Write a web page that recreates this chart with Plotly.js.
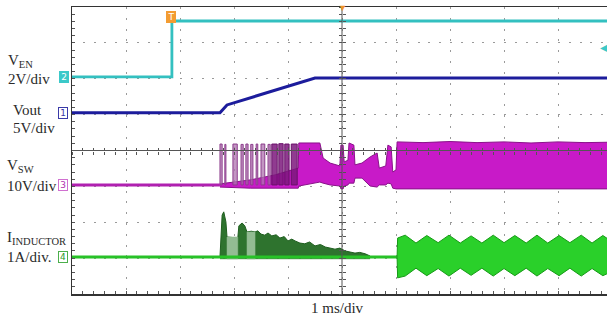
<!DOCTYPE html>
<html>
<head>
<meta charset="utf-8">
<script src="https://cdn.plot.ly/plotly-3.0.1.min.js"></script>
<style>html,body{margin:0;padding:0;background:#fff;}</style>
</head>
<body>
<div id="chart" style="width:607px;height:320px;"></div>
<script>
// ---- Data (time in ms, amplitude in screen divisions) ----
const ven_t = [-5, -3.15, -3.15, 4.91];
const ven_v = [2.05, 2.05, 3.61, 3.61];

const vout_t = [-5, -2.26, -2.13, -0.5, 4.91];
const vout_v = [1.05, 1.05, 1.27, 2.02, 2.02];

const vsw_base_t = [-5, -2.26];
const vsw_base_v = [-0.96, -0.96];

const vsw_t  = [-2.26, -1.70, -1.24, -0.81, -0.80, -0.41, -0.35, -0.22, -0.04, -0.02, 0.02, 0.04, 0.11, 0.13, 0.22, 0.24, 0.37, 0.52, 0.65, 0.69, 0.81, 0.85, 0.91, 0.94, 1.00, 1.02, 1.5, 2.0, 2.5, 3.0, 3.5, 4.0, 4.5, 4.91];
const vsw_hi = [-0.93, -0.82, -0.68, -0.49, 0.21, 0.21, -0.21, -0.35, -0.43, 0.15, 0.15, -0.32, -0.27, 0.21, 0.15, -0.40, -0.35, -0.18, -0.07, -0.49, -0.43, 0.15, 0.10, -0.60, -0.54, 0.24, 0.22, 0.25, 0.22, 0.24, 0.21, 0.24, 0.22, 0.23];
const vsw_lo = [-1.02, -1.05, -1.05, -1.05, -0.99, -0.88, -0.91, -0.96, -0.99, -1.07, -1.07, -0.99, -0.96, -0.91, -0.91, -0.77, -0.77, -0.99, -1.02, -0.96, -0.96, -0.91, -0.93, -1.05, -1.07, -1.07, -1.06, -1.08, -1.07, -1.06, -1.08, -1.07, -1.06, -1.07];

const pulse_start = [-2.26, -2.17, -2.02, -1.87, -1.78, -1.69, -1.59, -1.50, -1.37, -1.30, -1.17, -1.06, -0.94];
const pulse_end   = [-2.22, -2.15, -1.94, -1.83, -1.74, -1.65, -1.56, -1.43, -1.33, -1.20, -1.09, -0.98, -0.83];
const pulse_top   = [0.18, 0.17, 0.18, 0.17, 0.18, 0.17, 0.18, 0.18, 0.17, 0.18, 0.19, 0.18, 0.18];
const pulse_dark  = [false, false, false, false, false, false, false, false, false, true, true, true, true];
const pulse_base  = -0.96;

const il_base_t = [-5, 1.02];
const il_base_v = [-2.97, -2.97];

const il_burst_t  = [-2.26, -2.22, -2.19, -2.15, -2.13, -2.03, -1.93, -1.91, -1.85, -1.80, -1.76, -1.68, -1.61, -1.56, -1.50, -1.43, -1.37, -1.30, -1.22, -1.15, -1.07, -1.00, -0.93, -0.87, -0.78, -0.69, -0.60, -0.50, -0.40, -0.31, -0.22, -0.13, -0.04, 0.06, 0.15, 0.24, 0.33, 0.43, 0.52];
const il_burst_hi = [-2.97, -1.80, -1.71, -1.99, -2.41, -2.43, -2.44, -2.10, -2.02, -2.10, -2.27, -2.25, -2.27, -2.24, -2.33, -2.36, -2.30, -2.38, -2.35, -2.44, -2.40, -2.52, -2.47, -2.52, -2.58, -2.60, -2.55, -2.66, -2.62, -2.69, -2.72, -2.75, -2.72, -2.80, -2.83, -2.86, -2.84, -2.88, -2.94];
const il_burst_lo = -3.02;

const il_light_start = [-2.13, -1.76];
const il_light_end   = [-1.93, -1.61];
const il_light_top   = [-2.41, -2.27];

const il_rip_t  = [1.02, 1.03, 1.17, 1.37, 1.57, 1.78, 1.98, 2.19, 2.39, 2.59, 2.80, 3.00, 3.20, 3.41, 3.61, 3.81, 4.02, 4.22, 4.43, 4.63, 4.83, 4.96];
const il_rip_hi = [-2.97, -2.44, -2.36, -2.58, -2.37, -2.57, -2.36, -2.58, -2.38, -2.58, -2.36, -2.57, -2.37, -2.58, -2.36, -2.58, -2.37, -2.57, -2.36, -2.58, -2.37, -2.50];
const il_rip_lo = [-2.97, -3.55, -3.50, -3.28, -3.49, -3.29, -3.50, -3.28, -3.48, -3.28, -3.50, -3.29, -3.49, -3.28, -3.50, -3.29, -3.49, -3.28, -3.50, -3.29, -3.49, -3.40];

// ---- Build rectangles from pulse lists ----
function rects(starts, ends, tops, base, pick) {
  const x = [], y = [];
  for (let i = 0; i < starts.length; i++) {
    if (pick && !pick(i)) continue;
    x.push(starts[i], starts[i], ends[i], ends[i], starts[i], null);
    y.push(base, tops[i], tops[i], base, base, null);
  }
  return {x, y};
}
const lightP = rects(pulse_start, pulse_end, pulse_top, pulse_base, i => !pulse_dark[i]);
const darkP  = rects(pulse_start, pulse_end, pulse_top, pulse_base, i => pulse_dark[i]);
const ilLight = rects(il_light_start, il_light_end, il_light_top, il_burst_lo, null);

const skip = {hoverinfo: 'skip', showlegend: false};

const traces = [
  // VSW envelope
  Object.assign({x: vsw_t, y: vsw_lo, mode: 'lines', line: {color: '#8a128a', width: 1}}, skip),
  Object.assign({x: vsw_t, y: vsw_hi, mode: 'lines', line: {color: '#8a128a', width: 1}, fill: 'tonexty', fillcolor: '#c81ac8'}, skip),
  Object.assign({x: lightP.x, y: lightP.y, mode: 'lines', line: {color: '#8c3c8c', width: 1}, fill: 'toself', fillcolor: 'rgba(175,115,175,0.75)'}, skip),
  Object.assign({x: darkP.x, y: darkP.y, mode: 'lines', line: {color: '#6a106a', width: 1}, fill: 'toself', fillcolor: 'rgba(125,25,125,0.85)'}, skip),
  Object.assign({x: vsw_base_t, y: vsw_base_v, mode: 'lines', line: {color: '#b020b0', width: 3}}, skip),
  // Inductor current burst
  Object.assign({x: il_burst_t, y: il_burst_t.map(() => il_burst_lo), mode: 'lines', line: {color: '#2a7a2a', width: 0.5}}, skip),
  Object.assign({x: il_burst_t, y: il_burst_hi, mode: 'lines', line: {color: '#1f5f1f', width: 1}, fill: 'tonexty', fillcolor: '#2e732e'}, skip),
  Object.assign({x: ilLight.x, y: ilLight.y, mode: 'lines', line: {color: '#8fb98f', width: 0.5}, fill: 'toself', fillcolor: '#93bc93'}, skip),
  Object.assign({x: il_base_t, y: il_base_v, mode: 'lines', line: {color: '#27c227', width: 3}}, skip),
  // Inductor ripple band
  Object.assign({x: il_rip_t, y: il_rip_lo, mode: 'lines', line: {color: '#169a16', width: 1}}, skip),
  Object.assign({x: il_rip_t, y: il_rip_hi, mode: 'lines', line: {color: '#169a16', width: 1}, fill: 'tonexty', fillcolor: '#2ad02a'}, skip),
  // Vout
  Object.assign({x: vout_t, y: vout_v, mode: 'lines', line: {color: '#1c1c9c', width: 3}}, skip),
  // VEN
  Object.assign({x: ven_t, y: ven_v, mode: 'lines', line: {color: '#33c0c0', width: 2.8}}, skip),
  // dummy traces to instantiate center tick axes
  Object.assign({x: [0], y: [0], xaxis: 'x2', yaxis: 'y2', mode: 'markers', marker: {opacity: 0}}, skip),
  Object.assign({x: [0], y: [0], xaxis: 'x3', yaxis: 'y3', mode: 'markers', marker: {opacity: 0}}, skip)
];

const XR = [-5, 4.907], YR = [-4, 4];
const serif = 'Liberation Serif, Times New Roman, serif';
function px2x(px) { return (px - 72) / 535; }
function py2y(py) { return (294 - py) / 287; }
function label(text, px, py, size) {
  return {text: text, x: px2x(px), y: py2y(py), xref: 'paper', yref: 'paper', xanchor: 'left', yanchor: 'middle',
          showarrow: false, font: {family: serif, size: size || 15, color: '#2a2a2a'}};
}
function box(text, px, py, fill, border, fc) {
  return {text: text, x: px2x(px), y: py2y(py), xref: 'paper', yref: 'paper', xanchor: 'center', yanchor: 'middle',
          showarrow: false, bgcolor: fill, bordercolor: border, borderwidth: 1, borderpad: 0, width: 8, height: 10,
          font: {family: 'DejaVu Sans, sans-serif', size: 9, color: fc}};
}
const centerAx = {showticklabels: false, showgrid: false, zeroline: false, showline: false, tick0: 0, dtick: 0.2,
                  ticklen: 3, tickcolor: '#555', tickwidth: 1, fixedrange: true};

const layout = {
  width: 607, height: 320,
  margin: {l: 72, r: 0, t: 7, b: 26, pad: 0},
  paper_bgcolor: '#fff', plot_bgcolor: '#fff', showlegend: false,
  xaxis: {range: XR, showgrid: true, gridcolor: '#9a9a9a', griddash: '2px,8.8px', gridwidth: 1, tick0: 0, dtick: 1,
          showline: true, mirror: true, linecolor: '#333', linewidth: 1.5, ticks: 'inside', ticklen: 3, tickcolor: '#555',
          showticklabels: false, zeroline: false, fixedrange: true,
          minor: {dtick: 0.2, tick0: 0, ticks: 'inside', ticklen: 3, tickcolor: '#555', showgrid: false}},
  yaxis: {range: YR, showgrid: true, gridcolor: '#9a9a9a', griddash: '2px,8.8px', gridwidth: 1, tick0: 0, dtick: 1,
          showline: true, mirror: false, linecolor: '#333', linewidth: 1.5, ticks: 'inside', ticklen: 3, tickcolor: '#555',
          showticklabels: false, zeroline: false, fixedrange: true,
          minor: {dtick: 0.2, tick0: 0, ticks: 'inside', ticklen: 3, tickcolor: '#555', showgrid: false}},
  xaxis2: Object.assign({overlaying: 'x', anchor: 'free', position: 0.5, range: XR, ticks: 'outside'}, centerAx),
  yaxis2: Object.assign({overlaying: 'y', anchor: 'free', position: px2x(342), range: YR, ticks: 'outside'}, centerAx),
  xaxis3: Object.assign({overlaying: 'x', anchor: 'free', position: 0.5, range: XR, ticks: 'inside'}, centerAx),
  yaxis3: Object.assign({overlaying: 'y', anchor: 'free', position: px2x(342), range: YR, ticks: 'inside'}, centerAx),
  shapes: [
    {type: 'line', xref: 'x', yref: 'paper', x0: 0, x1: 0, y0: 0, y1: 1, layer: 'above', line: {color: '#555', width: 1}},
    {type: 'line', xref: 'paper', yref: 'y', x0: 0, x1: 1, y0: 0, y1: 0, layer: 'above', line: {color: '#555', width: 1}}
  ],
  annotations: [
    label('V<sub>EN</sub>', 6, 61),
    label('2V/div', 6, 79),
    label('Vout', 11, 110),
    label('5V/div', 11, 128),
    label('V<sub>SW</sub>', 5, 166),
    label('10V/div', 5, 186),
    label('I<sub>INDUCTOR</sub>', 5, 238),
    label('1A/div.', 5, 257),
    box('2', 64, 77, '#3cc9c9', '#3cc9c9', '#ffffff'),
    box('1', 63, 113, '#ffffff', '#3a3aa8', '#3a3aa8'),
    box('3', 63, 185, '#ffffff', '#d070d0', '#b030b0'),
    box('4', 63, 257, '#ffffff', '#4caf4c', '#2a9a2a'),
    box('T', 171, 17, '#f39c32', '#f39c32', '#ffffff'),
    {text: '\u25BC', x: 0, y: 1, xref: 'x', yref: 'paper', xanchor: 'center', yanchor: 'middle', showarrow: false,
     font: {size: 9, color: '#f0952a'}},
    {text: '\u25C0', x: px2x(604), y: py2y(47), xref: 'paper', yref: 'paper', xanchor: 'center', yanchor: 'middle', showarrow: false,
     font: {size: 10, color: '#3cc9c9'}},
    {text: '1 ms/div', x: px2x(337), y: py2y(308), xref: 'paper', yref: 'paper', xanchor: 'center', yanchor: 'middle',
     showarrow: false, font: {family: serif, size: 15, color: '#2a2a2a'}}
  ]
};

Plotly.newPlot('chart', traces, layout, {staticPlot: true, displayModeBar: false});
</script>
</body>
</html>
